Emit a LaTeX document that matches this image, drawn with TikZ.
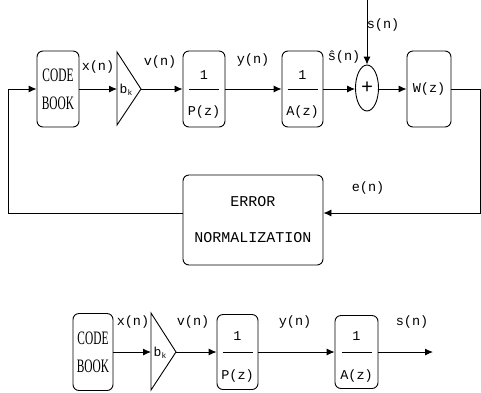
\documentclass[tikz,border=0pt]{standalone}
\usepackage{fontspec}
\usepackage{graphicx}
\setmainfont{Liberation Serif}
\newfontfamily\lb{Liberation Mono}
\usetikzlibrary{arrows.meta,shapes.geometric}
\tikzset{
  blk/.style={draw, rounded corners=6pt, line width=0.9pt, inner sep=0pt},
  lbl/.style={font=\lb\fontsize{13.5}{15}\selectfont, inner sep=0pt},
  cbtext/.style={font=\rmfamily\fontsize{19}{28}\selectfont, align=center},
  conn/.style={line width=0.9pt, -{Latex[length=8pt,width=7pt]}},
  wire/.style={line width=0.9pt},
}
\newcommand\cbk{\scalebox{0.6}[1]{CODE}\\\scalebox{0.6}[1]{BOOK}}
\newcommand\bk{{\lb\fontsize{13}{13}\selectfont b\raisebox{-2pt}{\fontsize{8}{8}\selectfont k}}}
\begin{document}
\begin{tikzpicture}[x=1pt,y=-1pt]
\useasboundingbox (0,0) rectangle (481,392);
% ---------- top row ----------
\node[blk, cbtext, minimum width=42pt, minimum height=76pt] (cb1) at (58,89) {\cbk};
\coordinate (t1w) at (117,89);
\coordinate (t1e) at (141,89);
\coordinate (t1t) at (117,52);
\coordinate (t1b) at (117,125);
\draw[wire] (t1t) -- (t1e) -- (t1b) -- cycle;
\node[inner sep=0pt] (bk1) at (126,90) {\bk};
\node[blk, minimum width=42pt, minimum height=76pt] (p1) at (204,89) {};
\node[lbl] (p1n) at ([yshift=14pt]p1.center) {1};
\node[lbl] (p1d) at ([yshift=-23pt]p1.center) {P(z)};
\draw[wire] ([xshift=-15pt]p1.center) -- ([xshift=15pt]p1.center);
\node[blk, minimum width=41pt, minimum height=76pt] (a1) at (302.5,89) {};
\node[lbl] (a1n) at ([yshift=14pt]a1.center) {1};
\node[lbl] (a1d) at ([yshift=-23pt]a1.center) {A(z)};
\draw[wire] ([xshift=-15pt]a1.center) -- ([xshift=15pt]a1.center);
\node[draw, ellipse, line width=0.9pt, minimum width=23pt, minimum height=46pt, inner sep=0pt, font=\lb\fontsize{20}{20}\selectfont] (sum) at (367,88) {+};
\node[blk, lbl, minimum width=44pt, minimum height=76pt] (w1) at (429,89) {W(z)};
\node[blk, font=\lb\fontsize{15}{36}\selectfont, align=center, minimum width=140pt, minimum height=90pt] (err) at (253,220) {ERROR\\NORMALIZATION};
\coordinate (sin) at (367,0);
\coordinate (fbR) at (480,89);
\coordinate (fbRd) at (480,213);
\coordinate (fbLd) at (8,213);
\coordinate (fbLu) at (8,89);
\draw[conn] (cb1.east) -- (t1w);
\draw[conn] (t1e) -- (p1.west);
\draw[conn] (p1.east) -- (a1.west);
\draw[conn] (a1.east) -- (a1.east -| sum.west);
\draw[conn] (sum.east |- w1.west) -- (w1.west);
\draw[conn] (sin) -- (sum.north);
\draw[conn] (w1.east) -- (fbR) -- (fbRd) -- (err.east |- fbRd);
\draw[conn] (err.west |- fbLd) -- (fbLd) -- (fbLu) -- (cb1.west);
\node[lbl] (lx1) at (98,67) {x(n)};
\node[lbl] (lv1) at (160,62) {v(n)};
\node[lbl] (ly1) at (253,60) {y(n)};
\node[lbl] (lsh) at (344,57) {ŝ(n)};
\node[lbl] (ls1) at (383,25) {s(n)};
\node[lbl] (le) at (368,188) {e(n)};
% ---------- bottom row ----------
\node[blk, cbtext, minimum width=40pt, minimum height=77pt] (cb2) at (93,352) {\cbk};
\coordinate (t2w) at (151,352);
\coordinate (t2e) at (176,352);
\coordinate (t2t) at (151,313);
\coordinate (t2b) at (151,390);
\draw[wire] (t2t) -- (t2e) -- (t2b) -- cycle;
\node[inner sep=0pt] (bk2) at (160,353) {\bk};
\node[blk, minimum width=41pt, minimum height=75pt] (p2) at (237.5,352) {};
\node[lbl] (p2n) at ([yshift=16pt]p2.center) {1};
\node[lbl] (p2d) at ([yshift=-24pt]p2.center) {P(z)};
\draw[wire] ([xshift=-15pt]p2.center) -- ([xshift=15pt]p2.center);
\node[blk, minimum width=43pt, minimum height=73pt] (a2) at (356.5,352) {};
\node[lbl] (a2n) at ([yshift=16pt]a2.center) {1};
\node[lbl] (a2d) at ([yshift=-24pt]a2.center) {A(z)};
\draw[wire] ([xshift=-15pt]a2.center) -- ([xshift=15pt]a2.center);
\coordinate (out2) at (433,352);
\draw[conn] (cb2.east) -- (t2w);
\draw[conn] (t2e) -- (p2.west);
\draw[conn] (p2.east) -- (a2.west);
\draw[conn] (a2.east) -- (out2);
\node[lbl] (lx2) at (133,322) {x(n)};
\node[lbl] (lv2) at (193,322) {v(n)};
\node[lbl] (ly2) at (295,322) {y(n)};
\node[lbl] (ls2) at (412,322) {s(n)};
\end{tikzpicture}
\end{document}
